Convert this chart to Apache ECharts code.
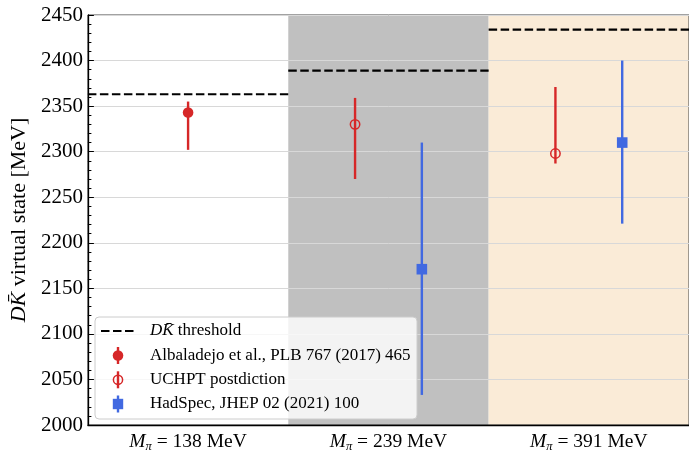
<!DOCTYPE html>
<html>
<head>
<meta charset="utf-8">
<script src="https://cdn.jsdelivr.net/npm/echarts@6/dist/echarts.min.js"></script>
<style>
  html, body { margin: 0; padding: 0; background: #fff; }
  #chart { width: 689px; height: 453px; }
</style>
</head>
<body>
<div id="chart"></div>
<script>
// Pion masses (MeV) for the three lattice ensembles / physical point
const pionMasses = [138, 239, 391];

// D K-bar threshold per pion mass (MeV)
const thresholds = [2363, 2389, 2434];

// Albaladejo et al. (physical point only)
const albaladejoCenter = [2343, null, null];
const albaladejoLow    = [2302, null, null];
const albaladejoHigh   = [2355, null, null];

// UCHPT postdiction
const uchptCenter = [null, 2330, 2298];
const uchptLow    = [null, 2270, 2287];
const uchptHigh   = [null, 2359, 2371];

// HadSpec lattice results
const hadspecCenter = [null, 2171, 2310];
const hadspecLow    = [null, 2033, 2221];
const hadspecHigh   = [null, 2310, 2400];

// y-axis tick settings
const yMin = 2000, yMax = 2450, yStep = 50;

const RED = '#d62728';
const BLUE = '#4169e1';
const FONT = '"Liberation Serif", "DejaVu Serif", serif';

const offsets = { albaladejo: 0, uchpt: -1 / 6, hadspec: 1 / 6 };

function pointsOf(center, offset) {
  const out = [];
  center.forEach((v, i) => { if (v != null) out.push([i + offset, v]); });
  return out;
}
function barsOf(low, high, offset) {
  const out = [];
  low.forEach((v, i) => { if (v != null) out.push([i + offset, v, high[i]]); });
  return out;
}

function errorBarSeries(name, low, high, offset, color) {
  return {
    name: name,
    type: 'custom',
    xAxisIndex: 1,
    z: 3,
    data: barsOf(low, high, offset),
    renderItem: function (params, api) {
      const p1 = api.coord([api.value(0), api.value(1)]);
      const p2 = api.coord([api.value(0), api.value(2)]);
      return {
        type: 'line',
        shape: { x1: p1[0], y1: p1[1], x2: p2[0], y2: p2[1] },
        style: { stroke: color, lineWidth: 2.4 }
      };
    },
    silent: true
  };
}

// Shaded backgrounds behind the 239 and 391 MeV columns
const shadeColors = ['#c0c0c0', '#faebd7'];
const shadeSeries = {
  type: 'custom',
  xAxisIndex: 1,
  z: -1,
  silent: true,
  data: [[0.5, 1.5], [1.5, 2.5]],
  renderItem: function (params, api) {
    const a = api.coord([api.value(0), yMax]);
    const b = api.coord([api.value(1), yMin]);
    return {
      type: 'rect',
      shape: { x: a[0], y: a[1], width: b[0] - a[0], height: b[1] - a[1] },
      style: { fill: shadeColors[params.dataIndex] }
    };
  }
};

// Threshold dashes, one segment per column
const thresholdSeries = thresholds.map((t, i) => ({
  name: 'threshold',
  type: 'line',
  xAxisIndex: 1,
  z: 4,
  symbol: 'none',
  silent: true,
  data: [[i - 0.5, t], [i + 0.5, t]],
  lineStyle: { color: '#000', width: 2.2, type: [8.5, 3.5] }
}));

const tickLabels = pionMasses.map(m => '{m|M}{s|π}{t| = ' + m + ' MeV}');

const chart = echarts.init(document.getElementById('chart'), null, { renderer: 'canvas' });

const legendRows = [331, 355.5, 379.8, 404];
const legendIconX = 118;
const legendTextX = 150;

const legendGraphics = [
  {
    type: 'rect',
    shape: { x: 95, y: 317, width: 322, height: 102, r: 4 },
    style: { fill: 'rgba(255,255,255,0.8)', stroke: '#cccccc', lineWidth: 1 },
    z: 100
  },
  {
    type: 'line',
    shape: { x1: 101, y1: legendRows[0], x2: 135, y2: legendRows[0] },
    style: { stroke: '#000', lineWidth: 2.2, lineDash: [8.5, 3.5] },
    z: 101
  },
  // filled circle entry
  { type: 'line', shape: { x1: legendIconX, y1: legendRows[1] - 8.5, x2: legendIconX, y2: legendRows[1] + 8.5 },
    style: { stroke: RED, lineWidth: 2.4 }, z: 101 },
  { type: 'circle', shape: { cx: legendIconX, cy: legendRows[1], r: 5.3 }, style: { fill: RED }, z: 102 },
  // open circle entry
  { type: 'line', shape: { x1: legendIconX, y1: legendRows[2] - 8.5, x2: legendIconX, y2: legendRows[2] + 8.5 },
    style: { stroke: RED, lineWidth: 2.4 }, z: 101 },
  { type: 'circle', shape: { cx: legendIconX, cy: legendRows[2], r: 4.6 }, style: { fill: 'none', stroke: RED, lineWidth: 1.5 }, z: 102 },
  // square entry
  { type: 'line', shape: { x1: legendIconX, y1: legendRows[3] - 8.5, x2: legendIconX, y2: legendRows[3] + 8.5 },
    style: { stroke: BLUE, lineWidth: 2.4 }, z: 101 },
  { type: 'rect', shape: { x: legendIconX - 5.2, y: legendRows[3] - 5.2, width: 10.4, height: 10.4 }, style: { fill: BLUE }, z: 102 }
];

const legendTexts = [
  '{i|DK\u0304}{r| threshold}',
  '{r|Albaladejo et al., PLB 767 (2017) 465}',
  '{r|UCHPT postdiction}',
  '{r|HadSpec, JHEP 02 (2021) 100}'
];
legendTexts.forEach((t, k) => {
  legendGraphics.push({
    type: 'text',
    x: legendTextX,
    y: legendRows[k],
    z: 103,
    style: {
      text: t,
      verticalAlign: 'middle',
      rich: {
        i: { fontFamily: FONT, fontSize: 17, fontStyle: 'italic', fill: '#000' },
        r: { fontFamily: FONT, fontSize: 17, fill: '#000' }
      }
    }
  });
});

chart.setOption({
  animation: false,
  backgroundColor: '#fff',
  grid: {
    left: 87, right: 0, top: 15, bottom: 23,
    show: true, borderColor: '#444', borderWidth: 1, backgroundColor: 'transparent'
  },
  xAxis: [
    {
      type: 'category',
      data: tickLabels,
      boundaryGap: true,
      axisLine: { show: true, onZero: false, lineStyle: { color: '#000', width: 1.3 } },
      axisTick: { show: false },
      splitLine: { show: false },
      axisLabel: {
        margin: 6,
        color: '#000',
        rich: {
          m: { fontFamily: FONT, fontSize: 19.5, fontStyle: 'italic' },
          s: { fontFamily: FONT, fontSize: 12.5, fontStyle: 'italic', padding: [9, 0, 0, 0] },
          t: { fontFamily: FONT, fontSize: 19.5 }
        }
      }
    },
    {
      type: 'value',
      min: -0.5, max: 2.5,
      show: false,
      splitLine: { show: false }
    }
  ],
  yAxis: {
    type: 'value',
    min: yMin, max: yMax, interval: yStep,
    name: '{i|DK\u0304}{r| virtual state [MeV]}',
    nameLocation: 'middle',
    nameRotate: 90,
    nameGap: 51,
    nameTextStyle: {
      rich: {
        i: { fontFamily: FONT, fontSize: 22, fontStyle: 'italic', color: '#000' },
        r: { fontFamily: FONT, fontSize: 22, color: '#000' }
      }
    },
    axisLine: { show: true, onZero: false, lineStyle: { color: '#000', width: 1.3 } },
    axisTick: { show: true, inside: true, length: 6, lineStyle: { color: '#000' } },
    minorTick: { show: true, splitNumber: 5, length: 3.5, lineStyle: { color: '#000' } },
    splitLine: { show: true, lineStyle: { color: '#d8d8d8', width: 1 } },
    axisLabel: {
      fontFamily: FONT, fontSize: 21, color: '#000', margin: 5,
      formatter: v => String(v)
    }
  },
  graphic: legendGraphics,
  series: [
    shadeSeries,
    ...thresholdSeries,
    errorBarSeries('Albaladejo et al., PLB 767 (2017) 465', albaladejoLow, albaladejoHigh, offsets.albaladejo, RED),
    errorBarSeries('UCHPT postdiction', uchptLow, uchptHigh, offsets.uchpt, RED),
    errorBarSeries('HadSpec, JHEP 02 (2021) 100', hadspecLow, hadspecHigh, offsets.hadspec, BLUE),
    {
      name: 'Albaladejo et al., PLB 767 (2017) 465',
      type: 'scatter', xAxisIndex: 1, z: 5,
      symbol: 'circle', symbolSize: 10.6,
      itemStyle: { color: RED, opacity: 1 },
      data: pointsOf(albaladejoCenter, offsets.albaladejo)
    },
    {
      name: 'UCHPT postdiction',
      type: 'scatter', xAxisIndex: 1, z: 5,
      symbol: 'circle', symbolSize: 9.4,
      itemStyle: { color: 'rgba(0,0,0,0)', borderColor: RED, borderWidth: 1.5, opacity: 1 },
      data: pointsOf(uchptCenter, offsets.uchpt)
    },
    {
      name: 'HadSpec, JHEP 02 (2021) 100',
      type: 'scatter', xAxisIndex: 1, z: 5,
      symbol: 'rect', symbolSize: 10.6,
      itemStyle: { color: BLUE, opacity: 1 },
      data: pointsOf(hadspecCenter, offsets.hadspec)
    }
  ]
});
</script>
</body>
</html>
